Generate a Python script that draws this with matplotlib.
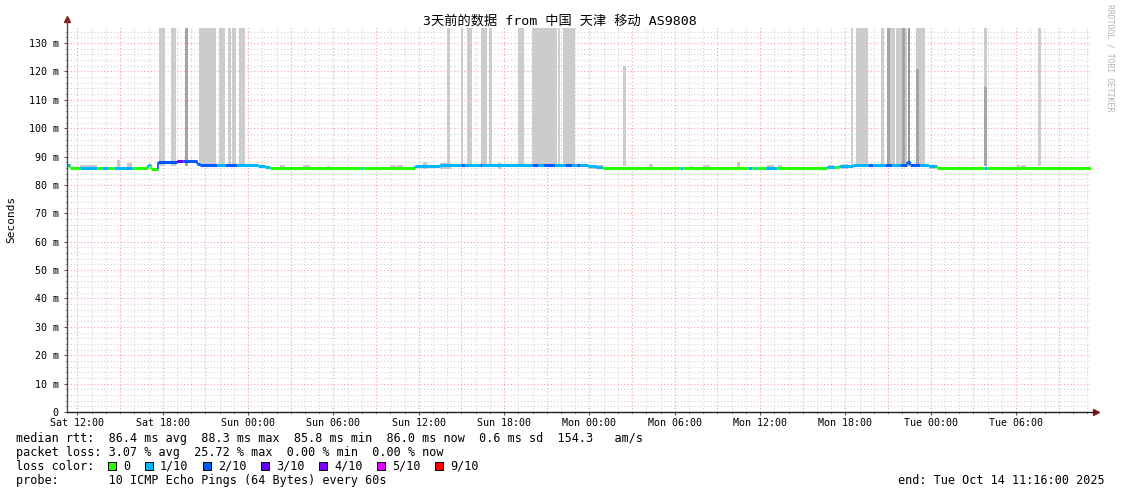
import numpy as np
import matplotlib.pyplot as plt
from matplotlib.patches import Rectangle

# time axis: hours after Sat Oct 11 11:16 (3 day window)
span_h = 72.0
first_full_hour = 44 / 60.0          # 12:00
first_clock_hour = 12
xtick_labels = ['Sat 12:00', 'Sat 18:00', 'Sun 00:00', 'Sun 06:00', 'Sun 12:00', 'Sun 18:00',
                'Mon 00:00', 'Mon 06:00', 'Mon 12:00', 'Mon 18:00', 'Tue 00:00', 'Tue 06:00']
ytick_vals = [0, 10, 20, 30, 40, 50, 60, 70, 80, 90, 100, 110, 120, 130]
ytick_labels = ['0'] + ['%d m' % v for v in ytick_vals[1:]]

# median rtt, piecewise (segment edges in hours, value in ms, loss index)
seg_edges = [0, 0.21, 0.91, 2.11, 2.46, 2.90, 3.30, 3.52, 4.64, 5.70, 5.91, 6.40, 7.73, 8.16,
             9.14, 9.35, 10.55, 11.11, 11.95, 13.43, 13.92, 14.27, 20.67, 20.81, 24.47, 26.23,
             27.70, 27.98, 29.04, 29.18, 32.70, 33.12, 33.47, 34.31, 35.02, 35.51, 35.86, 36.07,
             36.63, 37.20, 37.69, 43.10, 43.31, 47.88, 48.16, 48.38, 48.52, 49.08, 49.92, 53.44,
             54.00, 54.30, 55.27, 56.30, 56.70, 57.50, 58.00, 58.60, 59.06, 59.27, 60.00, 60.60,
             61.17, 64.48, 64.69, 72.0]
seg_rtt = [87.0, 86.0, 86.1, 86.0, 86.1, 86.0, 86.1, 86.0, 86.0, 87.0, 85.7, 88.1, 88.3, 88.3,
           87.3, 87.0, 87.0, 87.0, 87.0, 86.6, 86.2, 86.0, 86.0, 86.0, 86.6, 87.0, 87.0, 87.0,
           87.2, 87.0, 87.0, 87.0, 87.0, 87.0, 87.0, 87.0, 87.0, 87.0, 86.7, 86.3, 86.0, 86.0,
           86.0, 86.0, 86.0, 86.0, 86.0, 86.0, 86.0, 86.4, 86.3, 86.5, 87.0, 87.0, 87.0, 87.0,
           87.0, 87.0, 88.0, 87.0, 87.0, 86.7, 86.0, 86.0, 86.0]
seg_loss = [1, 0, 1, 0, 1, 0, 1, 1, 0, 1, 0, 2, 3, 2,
            2, 2, 1, 2, 1, 1, 1, 0, 1, 0, 1, 1, 2, 1,
            2, 1, 2, 1, 2, 1, 2, 1, 2, 1, 1, 1, 0, 1,
            0, 1, 0, 1, 0, 1, 0, 1, 0, 1, 1, 2, 1, 2,
            1, 2, 2, 2, 1, 1, 0, 1, 0]

# tall smoke (start h, end h, top ms, shade)
smoke_start = [6.47, 7.31, 8.30, 9.28, 10.69, 11.32, 11.60, 12.09, 26.72, 27.70, 28.13, 29.11,
               29.67, 31.71, 32.70, 34.52, 34.88, 39.09, 55.13, 55.48, 57.26, 57.68, 57.89,
               58.29, 58.71, 58.92, 59.13, 59.70, 59.70, 64.48, 64.48, 68.27]
smoke_end = [6.89, 7.66, 8.51, 10.48, 11.11, 11.53, 11.88, 12.52, 26.93, 27.84, 28.48, 29.53,
             29.88, 32.13, 34.45, 34.66, 35.72, 39.31, 55.27, 56.32, 57.47, 57.89, 58.24,
             58.71, 58.92, 59.06, 59.27, 60.33, 59.91, 64.69, 64.69, 68.48]
smoke_top = [135.3, 135.3, 135.3, 135.3, 135.3, 135.3, 135.3, 135.3, 135.3, 135.3, 135.3, 135.3,
             135.3, 135.3, 135.3, 135.3, 135.3, 122.0, 135.3, 135.3, 135.3, 135.3, 135.3,
             135.3, 135.3, 135.3, 135.3, 135.3, 121.0, 135.3, 114.5, 135.3]
smoke_shade = ['#cccccc', '#cccccc', '#a4a4a4', '#cccccc', '#cccccc', '#cccccc', '#cccccc',
               '#cccccc', '#cccccc', '#cccccc', '#cccccc', '#cccccc', '#cccccc', '#cccccc',
               '#cccccc', '#cccccc', '#cccccc', '#cccccc', '#cccccc', '#cccccc', '#cccccc',
               '#a4a4a4', '#cccccc', '#cccccc', '#a4a4a4', '#cccccc', '#949494', '#cccccc',
               '#a4a4a4', '#cccccc', '#a4a4a4', '#cccccc']

# small smoke around the median
bump_start = [0.91, 3.52, 4.22, 15.0, 16.6, 18.3, 22.7, 23.2, 25.0, 26.2, 30.3, 36.6, 40.9,
              43.8, 44.7, 47.1, 49.2, 50.0, 53.5, 54.5, 60.6, 66.8, 67.1]
bump_end = [2.11, 3.73, 4.57, 15.3, 17.1, 18.5, 23.1, 23.6, 25.3, 27.0, 30.5, 37.7, 41.2,
            44.0, 45.2, 47.3, 49.7, 50.3, 53.9, 54.9, 61.2, 67.0, 67.4]
bump_top = [87.2, 88.8, 87.8, 86.9, 87.0, 86.8, 86.9, 87.0, 88.0, 87.9, 87.8, 87.2, 87.3,
            86.8, 87.2, 88.0, 87.2, 86.9, 86.9, 87.4, 87.1, 87.0, 87.0]

loss_colors = ['#26ff00', '#00b8ff', '#0059ff', '#5e00ff', '#7e00ff', '#dd00ff', '#ff0000']
loss_names = ['0', '1/10', '2/10', '3/10', '4/10', '5/10', '9/10']

W, H = 1121, 494
mono = 'DejaVu Sans Mono'
plt.rcParams['font.family'] = mono

fig = plt.figure(figsize=(W / 100, H / 100), dpi=100)
fig.patch.set_facecolor('white')
ax = fig.add_axes([67 / W, (H - 412) / H, 1024 / W, 385 / H])
ax.set_xlim(0, span_h)
ax.set_ylim(0, 135.65)
for s in ax.spines.values():
    s.set_visible(False)

# grid
dots = (0, (1, 2))
grid_minor = dict(color='#d4d4d4', lw=0.8, ls=dots, zorder=0.5)
grid_major = dict(color='#f4a2a2', lw=0.8, ls=dots, zorder=0.6)
for v in np.arange(2, 136, 2):
    ax.axhline(v, **(grid_major if v % 10 == 0 else grid_minor))
hours = np.arange(first_full_hour, span_h, 1.0)
for i, h in enumerate(hours):
    ax.axvline(h, **(grid_major if (first_clock_hour + i) % 3 == 0 else grid_minor))

# smoke
ax.bar(bump_start, np.array(bump_top) - 85.7, width=np.array(bump_end) - np.array(bump_start),
       bottom=85.7, align='edge', color='#c8c8c8', lw=0, zorder=2)
ax.bar(smoke_start, np.array(smoke_top) - 86.5, width=np.array(smoke_end) - np.array(smoke_start),
       bottom=86.5, align='edge', color=smoke_shade, lw=0, zorder=2)

# median line coloured by loss
for i in range(len(seg_rtt)):
    c = loss_colors[seg_loss[i]]
    ax.hlines(seg_rtt[i], seg_edges[i], seg_edges[i + 1], color=c, lw=2.2, zorder=3)
    if i > 0 and seg_rtt[i] != seg_rtt[i - 1]:
        ax.vlines(seg_edges[i], seg_rtt[i - 1], seg_rtt[i], color=c, lw=1.2, zorder=3)

# ticks
xt = first_full_hour + 6 * np.arange(len(xtick_labels))
ax.set_xticks(xt)
ax.set_xticklabels(xtick_labels, fontsize=7.2)
ax.set_xticks(hours, minor=True)
ax.set_yticks(ytick_vals)
ax.set_yticklabels(ytick_labels, fontsize=7.2)
ax.set_yticks(np.arange(2, 136, 2), minor=True)
ax.tick_params(which='major', length=2, width=0.8, color='#555555', direction='out')
ax.tick_params(which='minor', length=1.5, width=0.6, color='#999999', direction='out')
ax.tick_params(axis='x', which='both', pad=2)
ax.tick_params(axis='y', which='both', pad=4)

# axes with arrows
ax.plot([0, 0], [0, 1.015], transform=ax.transAxes, color='#505050', lw=1, clip_on=False, zorder=5)
ax.plot([0, 1.004], [0, 0], transform=ax.transAxes, color='#202020', lw=1, clip_on=False, zorder=5)
ax.plot([0], [1.02], marker='^', ms=4, color='#8b1a1a', transform=ax.transAxes, clip_on=False)
ax.plot([1.005], [0], marker='>', ms=4, color='#8b1a1a', transform=ax.transAxes, clip_on=False)

def px(x, y):
    return x / W, 1 - y / H

fig.text(*px(560, 21), '3天前的数据 from 中国 天津 移动 AS9808', ha='center', va='center',
         fontsize=9.5, family=[mono, 'Noto Sans CJK SC'])
fig.text(*px(11, 219), 'Seconds', rotation=90, ha='center', va='center', fontsize=8)
fig.text(*px(1110, 4), 'RRDTOOL / TOBI OETIKER', rotation=270, ha='center', va='top',
         fontsize=5.9, color='#b4b4b4')

fs = 8.5
fig.text(*px(16, 438), 'median rtt:  86.4 ms avg  88.3 ms max  85.8 ms min  86.0 ms now  '
         '0.6 ms sd  154.3   am/s', va='center', fontsize=fs)
fig.text(*px(16, 452), 'packet loss: 3.07 % avg  25.72 % max  0.00 % min  0.00 % now',
         va='center', fontsize=fs)
fig.text(*px(16, 466), 'loss color:', va='center', fontsize=fs)
label_x = [123, 160, 218, 276, 334, 392, 450]
for c, name, lx in zip(loss_colors, loss_names, label_x):
    fig.patches.append(Rectangle(px(lx - 15, 470), 8 / W, 8 / H, transform=fig.transFigure,
                                 facecolor=c, edgecolor='black', lw=0.7))
    fig.text(*px(lx, 466), name, va='center', fontsize=fs)
fig.text(*px(16, 480), 'probe:       10 ICMP Echo Pings (64 Bytes) every 60s', va='center',
         fontsize=fs)
fig.text(*px(1105, 480), 'end: Tue Oct 14 11:16:00 2025', ha='right', va='center', fontsize=fs)

fig.savefig('out.png', dpi=100, facecolor='white')
